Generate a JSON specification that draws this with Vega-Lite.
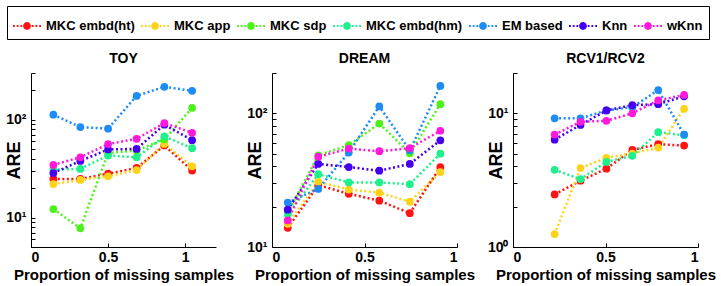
{
  "$schema": "https://vega.github.io/schema/vega-lite/v6.json",
  "background": "white",
  "padding": 5,
  "config": {
    "view": {"stroke": null},
    "font": "Liberation Sans",
    "title": {"fontSize": 14, "fontWeight": "bold", "font": "Liberation Sans", "color": "black", "offset": 7},
    "axis": {
      "domainColor": "black", "tickColor": "black", "labelColor": "black", "titleColor": "black",
      "labelFont": "Liberation Sans", "titleFont": "Liberation Sans",
      "labelFontWeight": "bold", "titleFontWeight": "bold", "labelFontSize": 14,
      "grid": false, "tickSize": -4, "domainWidth": 1, "tickWidth": 1
    },
    "axisX": {"titleFontSize": 15, "labelPadding": 7, "titlePadding": 3},
    "axisY": {"titleFontSize": 18, "labelPadding": 9, "titlePadding": -18},
    "legend": {
      "orient": "none", "legendX": -24, "legendY": -67, "direction": "horizontal", "title": null,
      "strokeColor": "black", "strokeWidth": 1, "padding": 6,
      "labelFont": "Liberation Sans", "labelFontWeight": "bold", "labelFontSize": 13, "labelColor": "black",
      "labelLimit": 0, "labelOffset": 5, "columnPadding": 6,
      "symbolSize": 784, "symbolStrokeWidth": 0,
      "symbolType": "M-1,-0.08h0.13v0.16h-0.13z M-0.73,-0.08h0.13v0.16h-0.13z M-0.47,-0.08h0.13v0.16h-0.13z M0.34,-0.08h0.13v0.16h-0.13z M0.6,-0.08h0.13v0.16h-0.13z M0.87,-0.08h0.13v0.16h-0.13z M-0.28,0 a0.28,0.28 0 1,0 0.56,0 a0.28,0.28 0 1,0 -0.56,0z"
    }
  },
  "datasets": {
    "toy": [
      {"p": 0.145, "s": "MKC embd(ht)", "v": 24.8}, {"p": 0.32, "s": "MKC embd(ht)", "v": 24.8}, {"p": 0.5, "s": "MKC embd(ht)", "v": 28.1}, {"p": 0.685, "s": "MKC embd(ht)", "v": 32.1}, {"p": 0.865, "s": "MKC embd(ht)", "v": 54.5}, {"p": 1.045, "s": "MKC embd(ht)", "v": 30.2},
      {"p": 0.145, "s": "MKC app", "v": 22}, {"p": 0.32, "s": "MKC app", "v": 24.2}, {"p": 0.5, "s": "MKC app", "v": 26.4}, {"p": 0.685, "s": "MKC app", "v": 30.6}, {"p": 0.865, "s": "MKC app", "v": 56.6}, {"p": 1.045, "s": "MKC app", "v": 33.4},
      {"p": 0.145, "s": "MKC sdp", "v": 12.2}, {"p": 0.32, "s": "MKC sdp", "v": 7.77}, {"p": 0.5, "s": "MKC sdp", "v": 45.7}, {"p": 0.685, "s": "MKC sdp", "v": 48.4}, {"p": 0.865, "s": "MKC sdp", "v": 62.8}, {"p": 1.045, "s": "MKC sdp", "v": 132},
      {"p": 0.145, "s": "MKC embd(hm)", "v": 30.9}, {"p": 0.32, "s": "MKC embd(hm)", "v": 31.4}, {"p": 0.5, "s": "MKC embd(hm)", "v": 43}, {"p": 0.685, "s": "MKC embd(hm)", "v": 41.3}, {"p": 0.865, "s": "MKC embd(hm)", "v": 67.4}, {"p": 1.045, "s": "MKC embd(hm)", "v": 51.2},
      {"p": 0.145, "s": "EM based", "v": 112.6}, {"p": 0.32, "s": "EM based", "v": 84}, {"p": 0.5, "s": "EM based", "v": 80.9}, {"p": 0.685, "s": "EM based", "v": 175}, {"p": 0.865, "s": "EM based", "v": 217}, {"p": 1.045, "s": "EM based", "v": 197},
      {"p": 0.145, "s": "Knn", "v": 28.5}, {"p": 0.32, "s": "Knn", "v": 37.9}, {"p": 0.5, "s": "Knn", "v": 49.6}, {"p": 0.685, "s": "Knn", "v": 50.3}, {"p": 0.865, "s": "Knn", "v": 88.9}, {"p": 1.045, "s": "Knn", "v": 61.8},
      {"p": 0.145, "s": "wKnn", "v": 34.5}, {"p": 0.32, "s": "wKnn", "v": 41.3}, {"p": 0.5, "s": "wKnn", "v": 56.3}, {"p": 0.685, "s": "wKnn", "v": 63.8}, {"p": 0.865, "s": "wKnn", "v": 92.4}, {"p": 1.045, "s": "wKnn", "v": 73.5}
    ],
    "dream": [
      {"p": 0.085, "s": "MKC embd(ht)", "v": 13.9}, {"p": 0.25, "s": "MKC embd(ht)", "v": 29}, {"p": 0.415, "s": "MKC embd(ht)", "v": 25}, {"p": 0.58, "s": "MKC embd(ht)", "v": 22.2}, {"p": 0.745, "s": "MKC embd(ht)", "v": 17.9}, {"p": 0.91, "s": "MKC embd(ht)", "v": 39.5},
      {"p": 0.085, "s": "MKC app", "v": 14.9}, {"p": 0.25, "s": "MKC app", "v": 30.7}, {"p": 0.415, "s": "MKC app", "v": 26.9}, {"p": 0.58, "s": "MKC app", "v": 25.5}, {"p": 0.745, "s": "MKC app", "v": 21.8}, {"p": 0.91, "s": "MKC app", "v": 36.3},
      {"p": 0.085, "s": "MKC sdp", "v": 18}, {"p": 0.25, "s": "MKC sdp", "v": 48.4}, {"p": 0.415, "s": "MKC sdp", "v": 57.8}, {"p": 0.58, "s": "MKC sdp", "v": 83.8}, {"p": 0.745, "s": "MKC sdp", "v": 50.2}, {"p": 0.91, "s": "MKC sdp", "v": 117},
      {"p": 0.085, "s": "MKC embd(hm)", "v": 17.5}, {"p": 0.25, "s": "MKC embd(hm)", "v": 35}, {"p": 0.415, "s": "MKC embd(hm)", "v": 30.4}, {"p": 0.58, "s": "MKC embd(hm)", "v": 30.4}, {"p": 0.745, "s": "MKC embd(hm)", "v": 29.5}, {"p": 0.91, "s": "MKC embd(hm)", "v": 49.9},
      {"p": 0.085, "s": "EM based", "v": 21.5}, {"p": 0.25, "s": "EM based", "v": 27.2}, {"p": 0.415, "s": "EM based", "v": 50.8}, {"p": 0.58, "s": "EM based", "v": 112.5}, {"p": 0.745, "s": "EM based", "v": 52.8}, {"p": 0.91, "s": "EM based", "v": 160},
      {"p": 0.085, "s": "Knn", "v": 19}, {"p": 0.25, "s": "Knn", "v": 41.8}, {"p": 0.415, "s": "Knn", "v": 39.6}, {"p": 0.58, "s": "Knn", "v": 37.2}, {"p": 0.745, "s": "Knn", "v": 41.8}, {"p": 0.91, "s": "Knn", "v": 62.8},
      {"p": 0.085, "s": "wKnn", "v": 15.8}, {"p": 0.25, "s": "wKnn", "v": 47.3}, {"p": 0.415, "s": "wKnn", "v": 54.4}, {"p": 0.58, "s": "wKnn", "v": 52}, {"p": 0.745, "s": "wKnn", "v": 54.8}, {"p": 0.91, "s": "wKnn", "v": 74}
    ],
    "rcv": [
      {"p": 0.225, "s": "MKC embd(ht)", "v": 2.47}, {"p": 0.365, "s": "MKC embd(ht)", "v": 3.13}, {"p": 0.505, "s": "MKC embd(ht)", "v": 3.85}, {"p": 0.645, "s": "MKC embd(ht)", "v": 5.32}, {"p": 0.785, "s": "MKC embd(ht)", "v": 5.87}, {"p": 0.925, "s": "MKC embd(ht)", "v": 5.74},
      {"p": 0.225, "s": "MKC app", "v": 1.25}, {"p": 0.365, "s": "MKC app", "v": 3.89}, {"p": 0.505, "s": "MKC app", "v": 4.64}, {"p": 0.645, "s": "MKC app", "v": 5.0}, {"p": 0.785, "s": "MKC app", "v": 5.54}, {"p": 0.925, "s": "MKC app", "v": 10.8},
      {"p": 0.225, "s": "MKC embd(hm)", "v": 3.78}, {"p": 0.365, "s": "MKC embd(hm)", "v": 3.22}, {"p": 0.505, "s": "MKC embd(hm)", "v": 4.33}, {"p": 0.645, "s": "MKC embd(hm)", "v": 4.81}, {"p": 0.785, "s": "MKC embd(hm)", "v": 7.22}, {"p": 0.925, "s": "MKC embd(hm)", "v": 6.85},
      {"p": 0.225, "s": "EM based", "v": 9.16}, {"p": 0.365, "s": "EM based", "v": 9.16}, {"p": 0.505, "s": "EM based", "v": 10.5}, {"p": 0.645, "s": "EM based", "v": 11.1}, {"p": 0.785, "s": "EM based", "v": 14.9}, {"p": 0.925, "s": "EM based", "v": 6.93},
      {"p": 0.225, "s": "Knn", "v": 6.35}, {"p": 0.365, "s": "Knn", "v": 8.18}, {"p": 0.505, "s": "Knn", "v": 10.5}, {"p": 0.645, "s": "Knn", "v": 11.5}, {"p": 0.785, "s": "Knn", "v": 11.7}, {"p": 0.925, "s": "Knn", "v": 13.4},
      {"p": 0.225, "s": "wKnn", "v": 6.93}, {"p": 0.365, "s": "wKnn", "v": 8.63}, {"p": 0.505, "s": "wKnn", "v": 8.78}, {"p": 0.645, "s": "wKnn", "v": 10}, {"p": 0.785, "s": "wKnn", "v": 12.5}, {"p": 0.925, "s": "wKnn", "v": 13.7}
    ]
  },
  "spacing": 12,
  "hconcat": [
    {
      "title": "TOY",
      "width": 185, "height": 174,
      "data": {"name": "toy"},
      "encoding": {
        "x": {"field": "p", "type": "quantitative", "scale": {"domain": [0, 1.2], "nice": false, "zero": false},
              "axis": {"title": "Proportion of missing samples", "values": [0, 0.5, 1], "format": "~g"}},
        "y": {"field": "v", "type": "quantitative", "scale": {"type": "log", "domain": [5, 300], "nice": false},
              "axis": {"title": "ARE", "values": [5,6,7,8,9,10,20,30,40,50,60,70,80,90,100,200,300],
                       "labelExpr": "datum.value == 1 ? '10⁰' : datum.value == 10 ? '10¹' : datum.value == 100 ? '10²' : ''"}},
        "color": {"field": "s", "type": "nominal",
                  "scale": {"domain": ["MKC embd(ht)", "MKC app", "MKC sdp", "MKC embd(hm)", "EM based", "Knn", "wKnn"],
                            "range": ["#FF1414", "#FFD21A", "#4DF21A", "#1EF08C", "#1E8CF5", "#4400EE", "#FF1ADB"]}}
      },
      "layer": [
        {"mark": {"type": "line", "strokeWidth": 2.5, "strokeDash": [2, 2.5], "strokeCap": "butt"}},
        {"mark": {"type": "point", "filled": true, "opacity": 1, "size": 60}}
      ]
    },
    {
      "title": "DREAM",
      "width": 185, "height": 174,
      "data": {"name": "dream"},
      "encoding": {
        "x": {"field": "p", "type": "quantitative", "scale": {"domain": [0, 1], "nice": false, "zero": false},
              "axis": {"title": "Proportion of missing samples", "values": [0, 0.5, 1], "format": "~g"}},
        "y": {"field": "v", "type": "quantitative", "scale": {"type": "log", "domain": [10, 200], "nice": false},
              "axis": {"title": "ARE", "values": [10,20,30,40,50,60,70,80,90,100,200],
                       "labelExpr": "datum.value == 1 ? '10⁰' : datum.value == 10 ? '10¹' : datum.value == 100 ? '10²' : ''"}},
        "color": {"field": "s", "type": "nominal",
                  "scale": {"domain": ["MKC embd(ht)", "MKC app", "MKC sdp", "MKC embd(hm)", "EM based", "Knn", "wKnn"],
                            "range": ["#FF1414", "#FFD21A", "#4DF21A", "#1EF08C", "#1E8CF5", "#4400EE", "#FF1ADB"]}}
      },
      "layer": [
        {"mark": {"type": "line", "strokeWidth": 2.5, "strokeDash": [2, 2.5], "strokeCap": "butt"}},
        {"mark": {"type": "point", "filled": true, "opacity": 1, "size": 60}}
      ]
    },
    {
      "title": "RCV1/RCV2",
      "width": 185, "height": 174,
      "data": {"name": "rcv"},
      "encoding": {
        "x": {"field": "p", "type": "quantitative", "scale": {"domain": [0, 1], "nice": false, "zero": false},
              "axis": {"title": "Proportion of missing samples", "values": [0, 0.5, 1], "format": "~g"}},
        "y": {"field": "v", "type": "quantitative", "scale": {"type": "log", "domain": [1, 20], "nice": false},
              "axis": {"title": "ARE", "values": [1,2,3,4,5,6,7,8,9,10,20],
                       "labelExpr": "datum.value == 1 ? '10⁰' : datum.value == 10 ? '10¹' : datum.value == 100 ? '10²' : ''"}},
        "color": {"field": "s", "type": "nominal",
                  "scale": {"domain": ["MKC embd(ht)", "MKC app", "MKC sdp", "MKC embd(hm)", "EM based", "Knn", "wKnn"],
                            "range": ["#FF1414", "#FFD21A", "#4DF21A", "#1EF08C", "#1E8CF5", "#4400EE", "#FF1ADB"]}}
      },
      "layer": [
        {"mark": {"type": "line", "strokeWidth": 2.5, "strokeDash": [2, 2.5], "strokeCap": "butt"}},
        {"mark": {"type": "point", "filled": true, "opacity": 1, "size": 60}}
      ]
    }
  ]
}
